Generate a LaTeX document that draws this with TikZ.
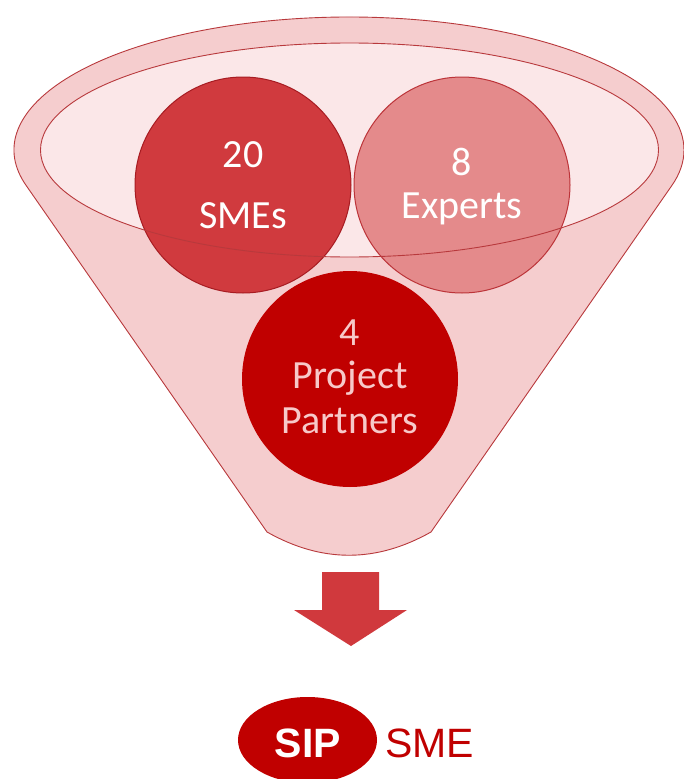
\documentclass[tikz,border=0pt]{standalone}
\usepackage{fontspec}
\setmainfont{Carlito}
\newfontfamily\arialfont{Liberation Sans}
\usetikzlibrary{shapes.geometric}
\definecolor{funnelfill}{HTML}{F5CDCE}
\definecolor{innerfill}{HTML}{FBE7E8}
\definecolor{funnelline}{HTML}{B8393C}
\definecolor{smesfill}{HTML}{D03A3E}
\definecolor{smesline}{HTML}{A71C22}
\definecolor{expfill}{HTML}{E48A8B}
\definecolor{expline}{HTML}{BC3439}
\definecolor{partfill}{HTML}{C00000}
\definecolor{parttext}{HTML}{F7C9C9}
\definecolor{arrowred}{HTML}{D0393D}
\definecolor{sipred}{HTML}{C00000}
\begin{document}
\begin{tikzpicture}[x=1pt,y=-1pt,
  outl/.style={draw=funnelline, line width=0.9pt},
  bubble/.style={circle, minimum size=216pt, inner sep=0pt, line width=1pt},
  lbl/.style={anchor=base, inner sep=0pt, text=white, font=\fontsize{40}{40}\selectfont},
  logotext/.style={anchor=base, inner sep=0pt, font=\arialfont\fontsize{41}{41}\selectfont}]
\useasboundingbox (0,0) rectangle (684,779);
% funnel body
\path[fill=funnelfill, outl] (267,532) -- (26.1,185.4)
  arc[start angle=164.57, end angle=375.43, x radius=335, y radius=133]
  -- (431,532) .. controls (376,563) and (322,563) .. (267,532) -- cycle;
% inner rim
\fill[innerfill] (349.5,150) ellipse[x radius=309, y radius=107];
% circles
\node[bubble, fill=partfill] (partners) at (350,379) {};
\node[bubble, fill=smesfill, draw=smesline] (smes) at (243,185) {};
\node[bubble, fill=expfill, draw=expline] (experts) at (462,185) {};
\draw[outl] (349.5,150) ellipse[x radius=309, y radius=107];
% labels
\node[lbl] (t20) at (243,167) {20};
\node[lbl] (tsmes) at (243,228) {SMEs};
\node[lbl] (t8) at (462,175) {8};
\node[lbl] (texp) at (462,218) {Experts};
\node[lbl, text=parttext] (t4) at (350,345) {4};
\node[lbl, text=parttext] (tproj) at (350,388) {Project};
\node[lbl, text=parttext] (tpart) at (350,433) {Partners};
% arrow
\fill[arrowred] (322,572) -- (379,572) -- (379,610) -- (407,610) -- (351,646) -- (294,610) -- (322,610) -- cycle;
% logo
\node[ellipse, fill=sipred, minimum width=139pt, minimum height=86pt, inner sep=0pt] (sipoval) at (307.5,740) {};
\node[logotext, text=white] (siptext) at (308,757) {\bfseries SIP};
\node[logotext, text=sipred] (smetext) at (429.5,757) {SME};
\end{tikzpicture}
\end{document}
